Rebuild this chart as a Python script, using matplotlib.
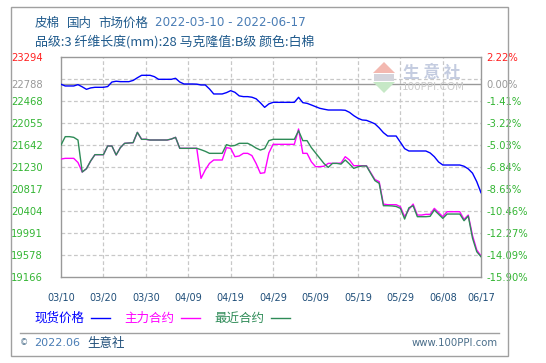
import numpy as np
import pandas as pd
import matplotlib
matplotlib.use("Agg")
import matplotlib.pyplot as plt
from matplotlib.lines import Line2D
from matplotlib.patches import Rectangle, Polygon

plt.rcParams['font.family'] = ['Noto Sans CJK SC', 'DejaVu Sans']

# daily data 2022-03-10 .. 2022-06-17
dates = pd.date_range("2022-03-10", "2022-06-17", freq="D")

spot = [22788, 22756, 22756, 22756, 22781, 22740, 22693, 22720, 22731, 22731,
        22731, 22745, 22830, 22845, 22837, 22837, 22837, 22860, 22910, 22956,
        22956, 22956, 22931, 22881, 22881, 22881, 22881, 22900, 22830, 22793,
        22793, 22793, 22790, 22775, 22775, 22700, 22606, 22606, 22606, 22631,
        22668, 22637, 22570, 22556, 22556, 22545, 22515, 22440, 22355, 22420,
        22449, 22449, 22449, 22449, 22449, 22449, 22543, 22443, 22430, 22400,
        22368, 22337, 22320, 22305, 22305, 22305, 22305, 22300, 22261, 22200,
        22150, 22118, 22111, 22080, 22045, 21970, 21880, 21817, 21817, 21817,
        21700, 21580, 21536, 21536, 21536, 21536, 21536, 21500, 21429, 21330,
        21273, 21273, 21273, 21273, 21273, 21250, 21200, 21120, 20960, 20753]

nearest = [21648, 21805, 21805, 21792, 21742, 21141, 21204, 21350, 21467, 21467,
           21467, 21630, 21630, 21461, 21600, 21680, 21686, 21692, 21886, 21755,
           21755, 21742, 21742, 21742, 21742, 21742, 21760, 21792, 21586, 21586,
           21586, 21586, 21586, 21560, 21530, 21492, 21492, 21492, 21492, 21655,
           21630, 21640, 21680, 21680, 21680, 21640, 21590, 21554, 21580, 21730,
           21755, 21755, 21755, 21755, 21755, 21755, 21917, 21730, 21730, 21600,
           21500, 21400, 21300, 21229, 21304, 21304, 21290, 21367, 21292, 21210,
           21240, 21254, 21254, 21116, 20980, 20929, 20509, 20509, 20505, 20495,
           20460, 20259, 20470, 20509, 20303, 20303, 20303, 20310, 20428, 20350,
           20272, 20353, 20353, 20353, 20353, 20228, 20315, 19900, 19646, 19552]

main = [21385, 21398, 21398, 21398, 21320, 21141, 21204, 21350, 21467, 21467,
        21467, 21630, 21630, 21461, 21600, 21680, 21686, 21692, 21886, 21755,
        21755, 21742, 21742, 21742, 21742, 21742, 21760, 21792, 21586, 21586,
        21586, 21586, 21586, 21022, 21179, 21304, 21367, 21367, 21367, 21598,
        21586, 21429, 21442, 21492, 21492, 21450, 21300, 21116, 21129, 21500,
        21661, 21661, 21661, 21661, 21661, 21661, 21949, 21492, 21492, 21335,
        21242, 21242, 21250, 21304, 21304, 21304, 21310, 21429, 21367, 21260,
        21260, 21260, 21260, 21130, 21000, 20960, 20540, 20528, 20528, 20528,
        20490, 20303, 20440, 20540, 20334, 20334, 20347, 20347, 20459, 20380,
        20303, 20397, 20397, 20397, 20397, 20253, 20334, 19950, 19680, 19565]

y_ticks = [19166, 19578, 19991, 20404, 20817, 21230, 21642, 22055, 22468, 22788, 23294]
y_labels = ["19166", "19578", "19991", "20404", "20817", "21230", "21642",
            "22055", "22468", "22788", "23294"]
pct_labels = ["-15.90%", "-14.09%", "-12.27%", "-10.46%", "-8.65%", "-6.84%",
              "-5.03%", "-3.22%", "-1.41%", "0.00%", "2.22%"]
grid_vals = [19578, 19991, 20404, 20817, 21230, 21642, 22055, 22468, 22881]
base_val = 22788

x_ticks = [0, 10, 20, 30, 40, 50, 60, 70, 80, 90, 99]
x_labels = ["03/10", "03/20", "03/30", "04/09", "04/19", "04/29",
            "05/09", "05/19", "05/29", "06/08", "06/17"]

W, H = 546, 363
def px(x, y):
    return (x / W, 1 - y / H)

fig = plt.figure(figsize=(W / 100, H / 100), dpi=100)
fig.patch.set_facecolor("white")

ax = fig.add_axes([61 / W, 1 - 277.3 / H, 420 / W, 220 / H])
days = np.arange(len(dates))

ax.set_xlim(0, 99)
ax.set_ylim(19166, 23294)

for v in grid_vals:
    ax.axhline(v, color="#c8c8c8", lw=0.9, ls=(0, (3, 2)), zorder=1)
for t in x_ticks[1:-1]:
    ax.axvline(t, color="#c8c8c8", lw=0.9, ls=(0, (3, 2)), zorder=1)
ax.axhline(base_val, color="#999999", lw=1.0, zorder=1)

ax.plot(days, spot, color="#0000ff", lw=1.0, zorder=3)
ax.plot(days, main, color="#ff00ff", lw=1.0, zorder=3)
ax.plot(days, nearest, color="#2e8b57", lw=1.0, zorder=4)

for s in ax.spines.values():
    s.set_color("#999999")
    s.set_linewidth(1.0)

ax.set_xticks(x_ticks)
ax.set_xticklabels(x_labels, family="DejaVu Sans")
ax.tick_params(axis="x", length=0, pad=11, labelsize=7, labelcolor="#1f4e79")

ax.set_yticks(y_ticks)
ax.set_yticklabels(y_labels, family="DejaVu Sans")
ax.tick_params(axis="y", length=0, pad=13, labelsize=7.2)
left_colors = ["#33b533"] * 9 + ["#999999", "#ff2020"]
for lab, c in zip(ax.get_yticklabels(), left_colors):
    lab.set_color(c)

ax2 = ax.twinx()
ax2.set_ylim(19166, 23294)
ax2.set_yticks(y_ticks)
ax2.set_yticklabels(pct_labels, family="DejaVu Sans")
ax2.tick_params(axis="y", length=0, pad=4, labelsize=7.2)
for lab, c in zip(ax2.get_yticklabels(), left_colors):
    lab.set_color(c)
for s in ax2.spines.values():
    s.set_visible(False)

# outer frame and separator
fig.add_artist(Rectangle(px(11, 356), 497 / W, 349 / H, transform=fig.transFigure,
                         fill=False, edgecolor="#a0a0a0", lw=1.0))
fig.add_artist(Line2D([20 / W, 499 / W], [1 - 333 / H] * 2, transform=fig.transFigure,
                      color="#a0a0a0", lw=1.0))

# titles
title_color = "#1f5a8c"
fig.text(*px(35, 23), "皮棉", fontsize=9, color=title_color, va="center")
fig.text(*px(67, 23), "国内", fontsize=9, color=title_color, va="center")
fig.text(*px(98, 23), "市场价格", fontsize=9, color=title_color, va="center")
fig.text(*px(155, 23), "2022-03-10 - 2022-06-17", fontsize=8.6, color="#4a7db5",
         va="center", family="DejaVu Sans")
fig.text(*px(35, 42), "品级:3 纤维长度(mm):28 马克隆值:B级 颜色:白棉", fontsize=9.3,
         color=title_color, va="center")

# watermark
fig.add_artist(Polygon([px(373, 73), px(395, 73), px(384, 62)], closed=True,
                       transform=fig.transFigure, facecolor="#f3b8b0", edgecolor="none"))
fig.add_artist(Rectangle(px(374, 81), 20 / W, 7 / H, transform=fig.transFigure,
                         facecolor="#d4d4dc", edgecolor="none"))
fig.add_artist(Polygon([px(373, 82), px(395, 82), px(384, 93)], closed=True,
                       transform=fig.transFigure, facecolor="#c6e8c6", edgecolor="none"))
fig.text(*px(432, 73), "生 意 社", fontsize=12, color="#c4cce0", ha="center", va="center",
         fontweight="bold")
fig.text(*px(433, 87), "100PPI.COM", fontsize=7.5, color="#cccccc", ha="center",
         va="center", family="DejaVu Sans")

# legend
legend_items = [("现货价格", "#0000ff", 34, 91), ("主力合约", "#ff00ff", 124, 181),
                ("最近合约", "#2e8b57", 214, 271)]
for label, col, tx, lx in legend_items:
    fig.text(*px(tx, 318), label, fontsize=9, color=col, va="center")
    fig.add_artist(Line2D([lx / W, (lx + 19) / W], [1 - 318 / H] * 2,
                          transform=fig.transFigure, color=col, lw=1.0))

# footer
fig.text(*px(20, 343), "©", fontsize=6, color="#4a6e8a", va="center", family="DejaVu Sans")
fig.text(*px(34, 343), "2022.06", fontsize=8, color="#4a7db5", va="center",
         family="DejaVu Sans")
fig.text(*px(87, 343), "生意社", fontsize=9, color="#1f4e79", va="center")
fig.text(*px(498, 343), "www.100PPI.com", fontsize=7.3, color="#4a6e8a", va="center",
         ha="right", family="DejaVu Sans")

fig.savefig("out.png", dpi=100)
